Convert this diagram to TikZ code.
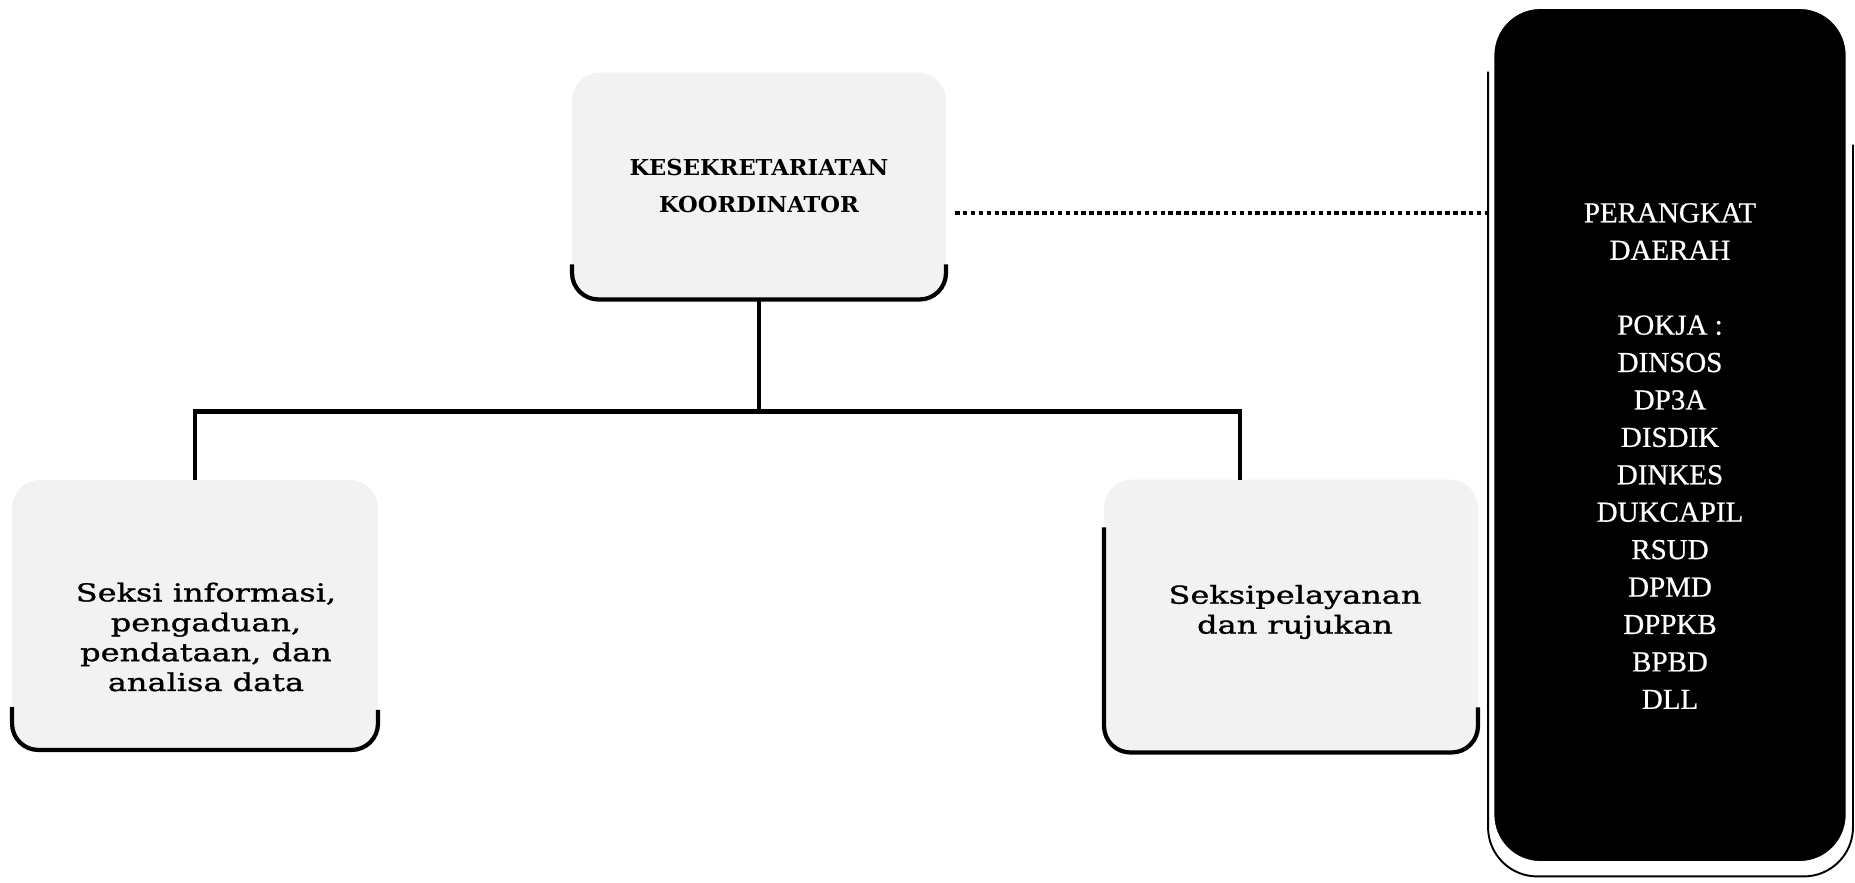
\documentclass[tikz,border=0pt]{standalone}
\usepackage{fontspec}
\setmainfont{DejaVu Serif}
\newfontfamily\headfont[FakeStretch=1.03]{DejaVu Serif}
\newfontfamily\seksifont[FakeStretch=1.3,FakeBold=1.2]{DejaVu Serif}
\newfontfamily\pdfont[FakeBold=0.6]{Liberation Serif}
\usepackage{tikz}
\usetikzlibrary{positioning,calc}

\begin{document}
\begin{tikzpicture}[x=0.02cm,y=-0.02cm,
  every node/.style={font=\seksifont\fontsize{14}{17}\selectfont},
  seksi/.style={fill=black!5, rounded corners=16pt, inner sep=0pt, outer sep=0pt},
  shade/.style={line width=2.4pt, rounded corners=15pt},
  conn/.style={line width=2.6pt},
  dotline/.style={line width=2.6pt, dash pattern=on 2.6pt off 1.9pt}]
  \useasboundingbox (0,0) rectangle (1855,882);
  % Kesekretariatan koordinator
  \node[seksi, minimum width=7.48cm, minimum height=4.54cm, align=center,
        font=\headfont\bfseries\fontsize{12.5}{20.5}\selectfont] (tk) at (759,186)
        {KESEKRETARIATAN\\KOORDINATOR};
  \draw[shade] ($(tk.south west)+(0,-35)$) -- (tk.south west) -- (tk.south east) -- ($(tk.south east)+(0,-35)$);
  % Seksi boxes
  \node[seksi, minimum width=7.32cm, minimum height=5.4cm] (sl) at (195,615) {};
  \node[align=center] (sltext) at ($(sl.center)+(11,22)$)
        {Seksi informasi,\\pengaduan,\\pendataan, dan\\analisa data};
  \draw[shade] ($(sl.south west)+(0,-43)$) -- (sl.south west) -- (sl.south east) -- ($(sl.south east)+(0,-40)$);
  \node[seksi, minimum width=7.48cm, minimum height=5.46cm] (sr) at (1291,616) {};
  \node[align=center] (srtext) at ($(sr.center)+(4,-4)$) {Seksipelayanan\\dan rujukan};
  \draw[shade] ($(sr.south west)+(0,-225)$) -- (sr.south west) -- (sr.south east) -- ($(sr.south east)+(0,-45)$);
  % Perangkat daerah
  \node[fill=black, draw=white, line width=1.5pt, outer sep=0pt, rounded corners=27pt,
        minimum width=7.08cm, minimum height=17.1cm] (pd) at (1670,435) {};
  \node[text=white, align=center, font=\pdfont\fontsize{16.5}{21.3}\selectfont] (pdtext) at ($(pd.center)+(0,21)$)
        {PERANGKAT\\DAERAH\\[21.3pt]POKJA :\\DINSOS\\DP3A\\DISDIK\\DINKES\\DUKCAPIL\\RSUD\\DPMD\\DPPKB\\BPBD\\DLL};
  \draw[line width=1.1pt, rounded corners=28pt] ($(pd.north west)+(-5,64)$) -- ($(pd.south west)+(-5,14)$)
        -- ($(pd.south east)+(6,14)$) -- ($(pd.north east)+(6,137)$);
  \coordinate (fr) at ($(pd.west)+(-5,0)$);
  % Dotted link
  \coordinate (dl) at ($(tk.east)+(9,27)$);
  \draw[dotline] (dl) -- (dl -| fr);
  % Connectors
  \coordinate (bus) at ($(tk.south)+(0,112)$);
  \draw[conn] (tk.south) -- (bus);
  \draw[conn] (sl.north) |- (bus) -| ($(sr.north)+(-51,0)$);
\end{tikzpicture}
\end{document}
